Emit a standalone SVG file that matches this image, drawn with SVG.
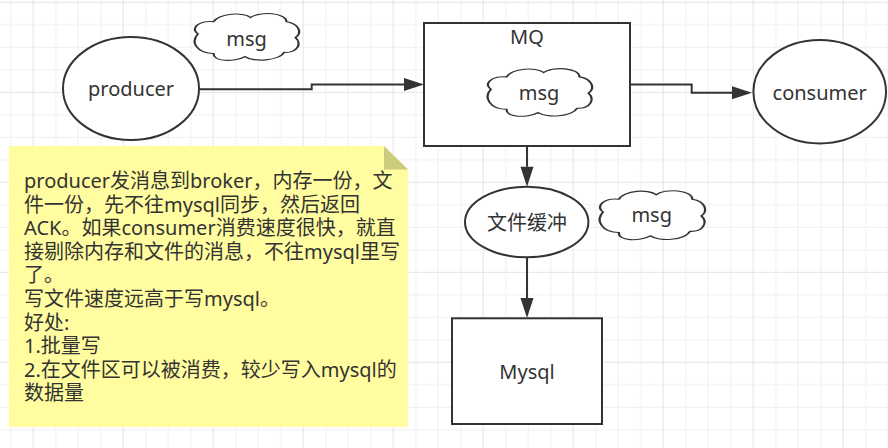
<svg xmlns="http://www.w3.org/2000/svg" width="888" height="448" viewBox="0 0 888 448">
<defs>
<pattern id="grid" patternUnits="userSpaceOnUse" x="32.7" y="1.8" width="90" height="90">
<rect width="90" height="90" fill="#ffffff"/>
<path d="M23,0V90M45.5,0V90M68,0V90M0,23H90M0,45.5H90M0,68H90" stroke="#efefef" stroke-width="1"/>
<path d="M0.5,0V90M0,0.5H90" stroke="#e4e4e4" stroke-width="1"/>
</pattern>
<marker id="arrow" markerUnits="userSpaceOnUse" markerWidth="20" markerHeight="14" refX="0" refY="6.5" orient="auto" overflow="visible">
<path d="M0,0 L20,6.5 L0,13 Z" fill="#333333"/>
</marker>
<path id="cloudShape" d="M8,45 C1,36 8,19 22,22 C27,6 48,3 55,14 C63,2 87,5 87,22 C99,26 101,44 95,52 C101,63 97,81 85,80 C80,96 58,99 50,88 C40,99 21,97 22,82 C7,82 1,60 8,45 Z"/>
</defs>
<style>
.shape{fill:#ffffff;stroke:#333333;stroke-width:2}
.cloud{fill:#ffffff;stroke:#333333;stroke-width:2;vector-effect:non-scaling-stroke}
.lbl{font-family:"Noto Sans","Noto Sans CJK SC",sans-serif;font-size:20px;fill:#333333;text-anchor:middle}
.note{font-family:"Noto Sans","Noto Sans CJK SC",sans-serif;font-size:20px;fill:#333333}
.conn{fill:none;stroke:#333333;stroke-width:2}
</style>
<rect width="888" height="448" fill="url(#grid)"/>

<g id="note">
<path d="M9,146 H384 L408,169.5 V427 H9 Z" fill="#fffd9f"/>
<path d="M384,146 L408,169.5 H384 Z" fill="#cccc7c"/>
<text class="note" x="24" y="188"><tspan x="24" y="188">producer发消息到broker，内存一份，文</tspan><tspan x="24" dy="23.6">件一份，先不往mysql同步，然后返回</tspan><tspan x="24" dy="23.6">ACK。如果consumer消费速度很快，就直</tspan><tspan x="24" dy="23.6">接剔除内存和文件的消息，不往mysql里写</tspan><tspan x="24" dy="23.6">了。</tspan><tspan x="24" dy="23.6">写文件速度远高于写mysql。</tspan><tspan x="24" dy="23.6">好处:</tspan><tspan x="24" dy="23.6">1.批量写</tspan><tspan x="24" dy="23.6">2.在文件区可以被消费，较少写入mysql的</tspan><tspan x="24" dy="23.6">数据量</tspan></text>
</g>

<g id="connectors">
<path class="conn" d="M199,89.3 H311.7 V84.5 H404" marker-end="url(#arrow)"/>
<path class="conn" d="M630,84.5 H691.7 V92.7 H732" marker-end="url(#arrow)"/>
<path class="conn" d="M527,146 V166.7" marker-end="url(#arrow)"/>
<path class="conn" d="M527,257.3 V298" marker-end="url(#arrow)"/>
</g>

<g id="producer">
<ellipse class="shape" cx="131" cy="88.5" rx="68" ry="51.5"/>
<text class="lbl" x="131" y="96">producer</text>
</g>

<g id="msg-cloud-top">
<use href="#cloudShape" class="cloud" transform="translate(189,10) scale(1.12,0.53)"/>
<text class="lbl" x="246.5" y="46">msg</text>
</g>

<g id="mq">
<rect class="shape" x="424" y="23" width="206" height="123"/>
<text class="lbl" x="527" y="43.5">MQ</text>
</g>

<g id="msg-cloud-mq">
<use href="#cloudShape" class="cloud" transform="translate(482,65) scale(1.12,0.54)"/>
<text class="lbl" x="539" y="100">msg</text>
</g>

<g id="consumer">
<ellipse class="shape" cx="819.7" cy="91.7" rx="66.3" ry="51.7"/>
<text class="lbl" x="819.7" y="100">consumer</text>
</g>

<g id="file-buffer">
<ellipse class="shape" cx="526.7" cy="222" rx="61.7" ry="35.3"/>
<text class="lbl" x="527" y="230">文件缓冲</text>
</g>

<g id="msg-cloud-right">
<use href="#cloudShape" class="cloud" transform="translate(594,187) scale(1.13,0.555)"/>
<text class="lbl" x="651.7" y="221.7">msg</text>
</g>

<g id="mysql">
<rect class="shape" x="452" y="318.3" width="150" height="105.7"/>
<text class="lbl" x="527" y="379.3">Mysql</text>
</g>
</svg>
